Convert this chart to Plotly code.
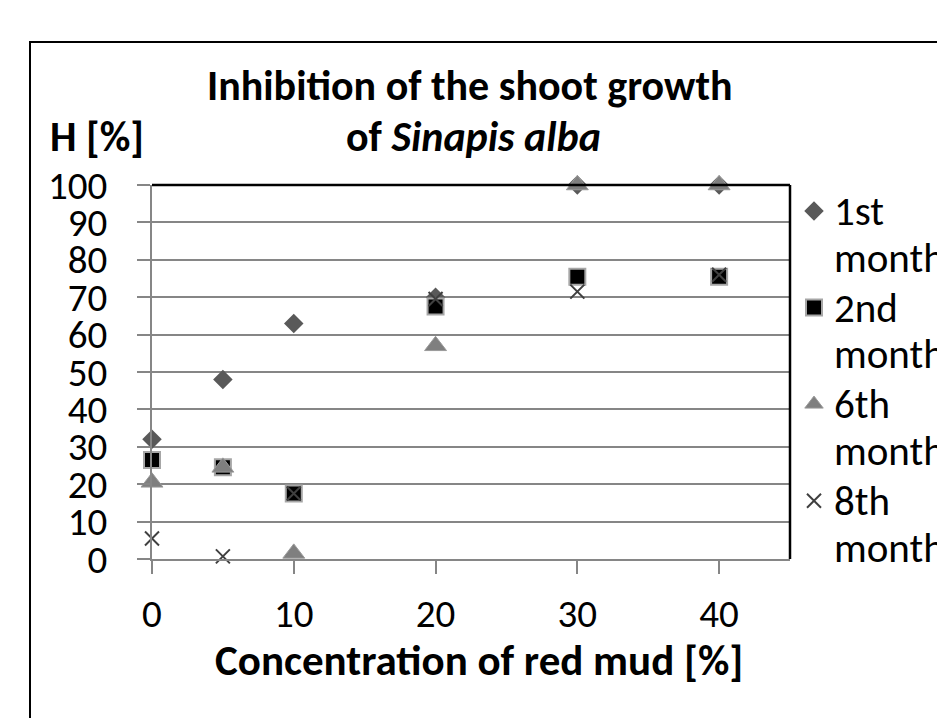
import plotly.graph_objects as go

# Data
conc = [0, 5, 10, 20, 30, 40]
month1 = [32, 48, 63, 70, 100, 100]
month2 = [26.5, 24.5, 17.5, 67.5, 75.5, 75.5]
month6 = [20.5, 24.5, 1.5, 57, 100, 100]
month8 = [5.5, 0.7, 17.5, 69.5, 71.5, 76]
series_first = ["1st", "2nd", "6th", "8th"]
series_second = "month"

FONT = "Carlito, Calibri, Lato, sans-serif"
W, H = 937, 718
L, R, T, B = 152, 790, 185, 559

def px(xp):
    return (xp - L) / (R - L)

def py(yp):
    return (B - yp) / (B - T)

def legname(s):
    return ("<span style='font-size:41px'>" + s + "</span><br>"
            "<span style='font-size:41px'>" + series_second + "</span>")

fig = go.Figure()
fig.add_trace(go.Scatter(x=conc, y=month1, mode="markers", name=legname(series_first[0]),
                         marker=dict(symbol="diamond", size=15, color="#595959", line=dict(width=0)),
                         cliponaxis=False))
fig.add_trace(go.Scatter(x=conc, y=month2, mode="markers", name=legname(series_first[1]),
                         marker=dict(symbol="square", size=16, color="#000000", line=dict(width=2, color="#a6a6a6")),
                         cliponaxis=False))
fig.add_trace(go.Scatter(x=conc, y=month6, mode="markers", name=legname(series_first[2]),
                         marker=dict(symbol="triangle-up", size=19, color="#7f7f7f", line=dict(width=1, color="#9a9a9a")),
                         cliponaxis=False))
fig.add_trace(go.Scatter(x=conc, y=month8, mode="markers", name=legname(series_first[3]),
                         marker=dict(symbol="x-thin", size=14, color="#404040", line=dict(width=2, color="#404040")),
                         cliponaxis=False))

fig.update_layout(
    width=W, height=H,
    margin=dict(l=L, r=W - R, t=T, b=H - B, autoexpand=False),
    paper_bgcolor="white", plot_bgcolor="white",
    font=dict(family=FONT, size=39, color="black"),
    showlegend=True,
    legend=dict(x=px(794), y=py(181), xanchor="left", yanchor="top",
                bgcolor="rgba(0,0,0,0)", font=dict(family=FONT, size=36),
                tracegroupgap=0, valign="top", itemwidth=30, maxheight=700),
    xaxis=dict(range=[0, 45], tickvals=[0, 10, 20, 30, 40], showgrid=False, zeroline=False,
               showline=True, linecolor="#868686", linewidth=2,
               ticks="outside", ticklen=13, tickwidth=2, tickcolor="#868686",
               tickfont=dict(family=FONT, size=39), ticklabelstandoff=6),
    yaxis=dict(range=[0, 100], dtick=10, showgrid=True, gridcolor="#868686", gridwidth=2, zeroline=False,
               showline=True, linecolor="#868686", linewidth=2,
               ticks="outside", ticklen=13, tickwidth=2, tickcolor="#868686",
               tickfont=dict(family=FONT, size=39), ticklabelstandoff=22),
    shapes=[
        dict(type="rect", xref="paper", yref="paper", x0=px(30), y0=py(740), x1=px(960), y1=py(42),
             line=dict(color="black", width=2), layer="below"),
        dict(type="line", xref="paper", yref="paper", x0=0, y0=1, x1=1, y1=1,
             line=dict(color="black", width=2.5), layer="above"),
        dict(type="line", xref="paper", yref="paper", x0=1, y0=0, x1=1, y1=1,
             line=dict(color="black", width=2.5), layer="above"),
    ],
    annotations=[
        dict(text="<b>Inhibition of the shoot growth</b>", xref="paper", yref="paper", x=px(470), y=py(85),
             xanchor="center", yanchor="middle", showarrow=False, font=dict(family=FONT, size=42)),
        dict(text="<b>of <i>Sinapis alba</i></b>", xref="paper", yref="paper", x=px(473), y=py(137),
             xanchor="center", yanchor="middle", showarrow=False, font=dict(family=FONT, size=42)),
        dict(text="<b>H [%]</b>", xref="paper", yref="paper", x=px(97), y=py(137),
             xanchor="center", yanchor="middle", showarrow=False, font=dict(family=FONT, size=42)),
        dict(text="<b>Concentration of red mud [%]</b>", xref="paper", yref="paper", x=px(479), y=py(660),
             xanchor="center", yanchor="middle", showarrow=False, font=dict(family=FONT, size=43)),
    ],
)

fig.write_html("out.html", config={"displayModeBar": False},
               post_script="document.body.style.margin='0';document.body.style.overflow='hidden';")
